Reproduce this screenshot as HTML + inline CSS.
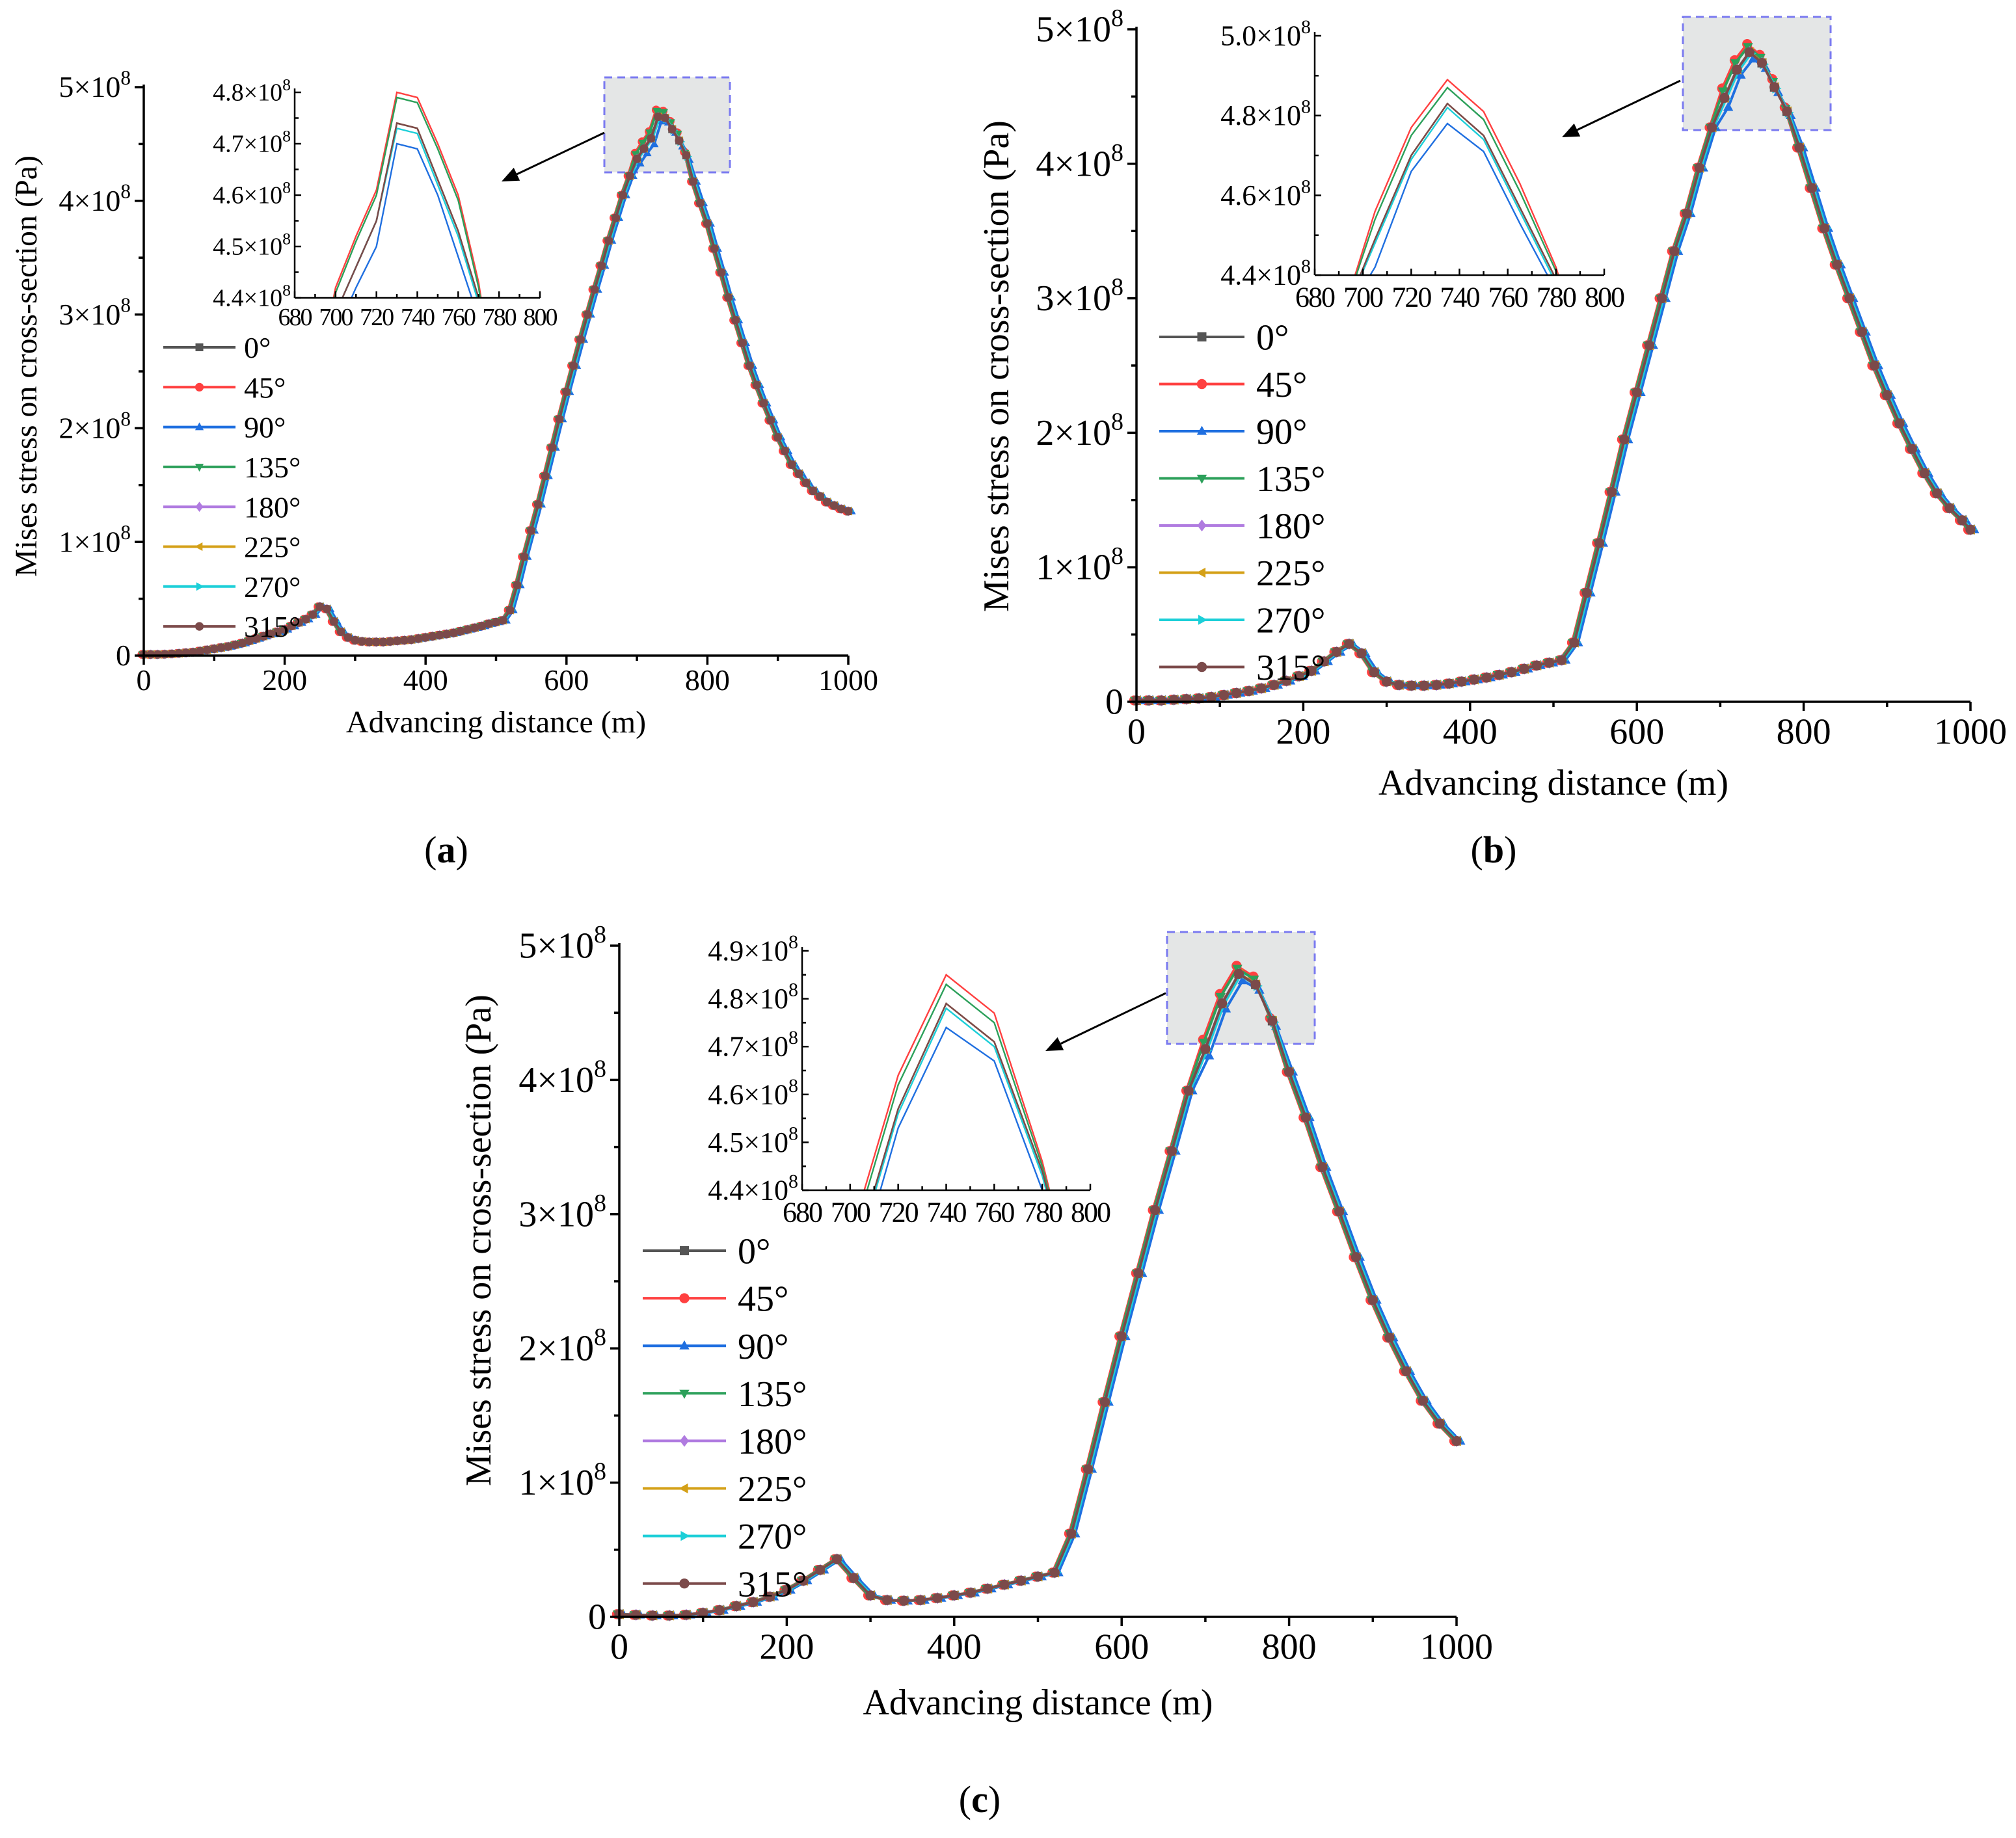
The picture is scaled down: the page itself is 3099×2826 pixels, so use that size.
<!DOCTYPE html>
<html><head><meta charset="utf-8">
<style>
html,body{margin:0;padding:0;background:#fff;overflow:hidden;width:3099px;height:2826px;}
svg{display:block;font-family:"Liberation Serif",serif;}
</style></head>
<body>
<svg id="fig" width="3099" height="2826" viewBox="0 0 3099 2826" xmlns="http://www.w3.org/2000/svg"></svg>
<script>
// ---------- DATA (values in units of 1e8 Pa) ----------
const seriesNames = ["0°","45°","90°","135°","180°","225°","270°","315°"];
const seriesColors = ["#555555","#ff4040","#1f6fe0","#2ca05a","#b07be0","#d4a017","#1ccfd8","#7b4a4a"];
const markerShapes = ["square","circle","tri-up","tri-down","diamond","tri-left","tri-right","circle"];

// Panel (a)
const aX = [0,10,20,30,40,50,60,70,80,90,100,110,120,130,140,150,160,170,180,190,200,210,220,230,240,250,260,270,280,290,300,310,320,330,340,350,360,370,380,390,400,410,420,430,440,450,460,470,480,490,500,510,520,530,540,550,560,570,580,590,600,610,620,630,640,650,660,670,680,690,700,710,720,730,740,750,760,770,780,790,800,810,820,830,840,850,860,870,880,890,900,910,920,930,940,950,960,970,980,990,1000];
const aBase = [0.01,0.01,0.01,0.012,0.015,0.02,0.025,0.03,0.04,0.05,0.06,0.07,0.08,0.095,0.11,0.13,0.15,0.17,0.19,0.21,0.23,0.26,0.29,0.32,0.36,0.43,0.41,0.30,0.21,0.16,0.135,0.125,0.12,0.12,0.12,0.125,0.13,0.135,0.14,0.15,0.16,0.17,0.18,0.19,0.20,0.215,0.23,0.245,0.26,0.28,0.295,0.31,0.40,0.62,0.87,1.10,1.33,1.58,1.83,2.08,2.32,2.55,2.78,3.00,3.22,3.43,3.65,3.85,4.05,4.22,4.37,4.46,4.55,4.74,4.73,4.63,4.53,4.40,4.17,3.98,3.80,3.58,3.37,3.15,2.95,2.75,2.55,2.38,2.22,2.07,1.92,1.80,1.68,1.60,1.52,1.45,1.40,1.35,1.32,1.29,1.27];
const aPeakX = [700,710,720,730,740,750,760,770];
const aRed   = [4.42,4.52,4.61,4.80,4.79,4.70,4.60,4.43];
const aGreen = [4.41,4.51,4.60,4.79,4.78,4.69,4.59,4.42];
const aMid   = [4.37,4.46,4.55,4.74,4.73,4.63,4.53,4.40];
const aCyan  = [4.37,4.46,4.55,4.73,4.72,4.62,4.52,4.39];
const aBlue  = [4.33,4.42,4.50,4.70,4.69,4.60,4.48,4.36];

// Panel (b)
const bX = [0,15,30,45,60,75,90,105,120,135,150,165,180,195,210,225,240,255,270,285,300,315,330,345,360,375,390,405,420,435,450,465,480,495,510,525,540,555,570,585,600,615,630,645,660,675,690,705,720,735,750,765,780,795,810,825,840,855,870,885,900,915,930,945,960,975,990,1000];
const bBase = [0.01,0.01,0.01,0.015,0.02,0.025,0.035,0.05,0.065,0.08,0.10,0.125,0.155,0.19,0.23,0.30,0.37,0.43,0.36,0.22,0.15,0.125,0.12,0.12,0.125,0.135,0.15,0.165,0.18,0.20,0.22,0.245,0.27,0.29,0.31,0.44,0.81,1.18,1.56,1.95,2.30,2.65,3.00,3.35,3.63,3.97,4.27,4.49,4.70,4.83,4.75,4.57,4.39,4.12,3.82,3.52,3.25,3.00,2.75,2.50,2.28,2.07,1.88,1.70,1.55,1.44,1.35,1.28];
const bPeakX = [705,720,735,750,765,780];
const bRed   = [4.56,4.77,4.89,4.81,4.63,4.42];
const bGreen = [4.54,4.75,4.87,4.79,4.61,4.41];
const bMid   = [4.49,4.70,4.83,4.75,4.57,4.39];
const bCyan  = [4.48,4.69,4.82,4.74,4.56,4.38];
const bBlue  = [4.42,4.66,4.78,4.71,4.53,4.36];

// Panel (c)
const cX = [0,20,40,60,80,100,120,140,160,180,200,220,240,260,280,300,320,340,360,380,400,420,440,460,480,500,520,540,560,580,600,620,640,660,680,700,720,740,760,780,800,820,840,860,880,900,920,940,960,980,1000];
const cBase = [0.02,0.015,0.01,0.01,0.015,0.03,0.05,0.08,0.11,0.15,0.20,0.27,0.35,0.43,0.29,0.16,0.125,0.12,0.125,0.14,0.16,0.18,0.21,0.24,0.27,0.30,0.33,0.62,1.10,1.60,2.09,2.56,3.03,3.47,3.92,4.23,4.57,4.79,4.71,4.44,4.06,3.72,3.35,3.02,2.68,2.36,2.08,1.83,1.61,1.44,1.31];
const cPeakX = [700,720,740,760,780];
const cRed   = [4.30,4.64,4.85,4.77,4.46];
const cGreen = [4.28,4.62,4.83,4.75,4.45];
const cMid   = [4.23,4.57,4.79,4.71,4.44];
const cCyan  = [4.22,4.56,4.78,4.70,4.43];
const cBlue  = [4.18,4.53,4.74,4.67,4.40];

const mainYTicks = [0,1,2,3,4,5];
const mainXTicks = [0,200,400,600,800,1000];
const insetXTicks = [680,700,720,740,760,780,800];
const aInsetYTicks = ["4.4","4.5","4.6","4.7","4.8"];
const bInsetYTicks = ["4.4","4.6","4.8","5.0"];
const cInsetYTicks = ["4.4","4.5","4.6","4.7","4.8","4.9"];

// ---------- DRAWING ----------
const NS = "http://www.w3.org/2000/svg";
const svg = document.getElementById("fig");
function mk(tag, attrs, parent){
  const e = document.createElementNS(NS, tag);
  for (const k in attrs) e.setAttribute(k, attrs[k]);
  (parent||svg).appendChild(e);
  return e;
}
function sciText(parent, x, y, mant, fs, anchor){
  const t = mk("text", {x:x, y:y, "font-size":fs, "text-anchor":anchor, fill:"#000"}, parent);
  if (mant === "0") { t.textContent = "0"; return t; }
  t.appendChild(document.createTextNode(mant + "×10"));
  const s = document.createElementNS(NS, "tspan");
  s.setAttribute("dy", -fs*0.42);
  s.setAttribute("font-size", fs*0.68);
  s.textContent = "8";
  t.appendChild(s);
  return t;
}
function marker(g, shape, x, y, r, color){
  let e;
  if (shape==="square") e = mk("rect",{x:x-r,y:y-r,width:2*r,height:2*r,fill:color},g);
  else if (shape==="circle") e = mk("circle",{cx:x,cy:y,r:r*1.1,fill:color},g);
  else {
    let pts;
    if (shape==="tri-up") pts=[[x,y-r*1.2],[x-r*1.1,y+r*0.8],[x+r*1.1,y+r*0.8]];
    else if (shape==="tri-down") pts=[[x,y+r*1.2],[x-r*1.1,y-r*0.8],[x+r*1.1,y-r*0.8]];
    else if (shape==="tri-left") pts=[[x-r*1.2,y],[x+r*0.8,y-r*1.1],[x+r*0.8,y+r*1.1]];
    else if (shape==="tri-right") pts=[[x+r*1.2,y],[x-r*0.8,y-r*1.1],[x-r*0.8,y+r*1.1]];
    else pts=[[x,y-r*1.3],[x+r,y],[x,y+r*1.3],[x-r,y]];
    e = mk("polygon",{points:pts.map(p=>p.join(",")).join(" "),fill:color},g);
  }
  return e;
}
function seriesValues(xs, base, peakX, peakArr){
  return xs.map((x,i)=>{ const j = peakX.indexOf(x); return j>=0 ? peakArr[j] : base[i]; });
}

function drawPanel(P){
  const g = mk("g", {});
  
  
  const sx = v => P.ox + v/1000*P.xw;
  const sy = v => P.oy - v/5*P.yh;
  const perSeries = [P.mid,P.red,P.blue,P.green,P.mid,P.mid,P.cyan,P.mid];
  const xShift = [0,-1.5,2.5,-1,0,0.5,1,0];

  const box = mk("rect",{x:P.box[0],y:P.box[1],width:P.box[2]-P.box[0],height:P.box[3]-P.box[1],fill:"#e4e6e6",stroke:"#7a7af0","stroke-width":3,"stroke-dasharray":"12,8"},g);
  
  

  for (let s=0;s<8;s++){
    const vals = seriesValues(P.xs, P.base, P.peakX, perSeries[s]);
    const sg = mk("g",{},g);
    
    
    const pl = mk("polyline",{points:P.xs.map((x,i)=>(sx(x)+xShift[s]*P.mr/3)+","+sy(vals[i])).join(" "),fill:"none",stroke:seriesColors[s],"stroke-width":4,"stroke-linejoin":"round"},sg);
    
    
    P.xs.forEach((x,i)=>{
      const m = marker(sg, markerShapes[s], sx(x)+xShift[s]*P.mr/3, sy(vals[i]), P.mr, seriesColors[s]);
      
      
    });
  }

  const ax = mk("g",{stroke:"#000","stroke-width":3.5},g);
  
  
  mk("line",{x1:P.ox,y1:P.oy,x2:P.ox+P.xw,y2:P.oy},ax);
  mk("line",{x1:P.ox,y1:P.oy,x2:P.ox,y2:P.oy-P.yh-4},ax);
  for (let v=0; v<=1000; v+=100){
    const major = v%200===0;
    mk("line",{x1:sx(v),y1:P.oy,x2:sx(v),y2:P.oy+(major?14:8)},ax);
  }
  for (let v=0; v<=5; v+=0.5){
    const major = Math.abs(v-Math.round(v))<1e-6;
    mk("line",{x1:P.ox,y1:sy(v),x2:P.ox-(major?14:8),y2:sy(v)},ax);
  }
  mainXTicks.forEach(v=>{
    const t = mk("text",{x:sx(v),y:P.oy+P.tickFs*1.15,"font-size":P.tickFs,"text-anchor":"middle",fill:"#000"},g);
    t.textContent = String(v);
    
    
  });
  mainYTicks.forEach(v=>{
    const t = sciText(g, P.ox-20, sy(v)+P.tickFs*0.33, v===0?"0":String(v), P.tickFs, "end");
    
    
  });
  const xt = mk("text",{x:P.ox+P.xw/2,y:P.xTitleY,"font-size":P.titleFs,"text-anchor":"middle",fill:"#000"},g);
  xt.textContent = "Advancing distance (m)";
  
  
  const yt = mk("text",{x:0,y:0,"font-size":P.titleFs,"text-anchor":"middle",fill:"#000",transform:`translate(${P.yTitleX},${P.yTitleCY}) rotate(-90)`},g);
  yt.textContent = "Mises stress on cross-section  (Pa)";
  
  

  const lg = mk("g",{},g);
  
  
  for (let s=0;s<8;s++){
    const y = P.leg.y0 + s*P.leg.dy;
    const le = mk("g",{},lg);
    
    
    mk("line",{x1:P.leg.x1,y1:y,x2:P.leg.x2,y2:y,stroke:seriesColors[s],"stroke-width":4},le);
    marker(le, markerShapes[s], (P.leg.x1+P.leg.x2)/2, y, P.mr, seriesColors[s]);
    const t = mk("text",{x:P.leg.tx,y:y+P.leg.fs*0.35,"font-size":P.leg.fs,fill:"#000"},le);
    t.textContent = seriesNames[s];
  }

  const a = P.arrow;
  const arr = mk("g",{},g);
  
  
  const dx=a[2]-a[0], dy=a[3]-a[1], L=Math.hypot(dx,dy), ux=dx/L, uy=dy/L;
  const hx=a[2]-ux*26, hy=a[3]-uy*26;
  mk("line",{x1:a[0],y1:a[1],x2:hx,y2:hy,stroke:"#000","stroke-width":3},arr);
  mk("polygon",{points:`${a[2]},${a[3]} ${hx-uy*11},${hy+ux*11} ${hx+uy*11},${hy-ux*11}`,fill:"#000"},arr);

  const I = P.inset;
  const ig = mk("g",{},g);
  
  
  const isx = v => I.x0 + (v-680)/120*(I.x1-I.x0);
  const isy = v => I.y0 - (v-I.ymin)/(I.ymax-I.ymin)*(I.y0-I.y1);
  const cid = "clip"+P.name;
  const cp = mk("clipPath",{id:cid},ig);
  mk("rect",{x:I.x0,y:I.y1-20,width:I.x1-I.x0,height:I.y0-I.y1+20},cp);
  const il = mk("g",{"clip-path":`url(#${cid})`},ig);
  for (let s=0;s<8;s++){
    const vals = seriesValues(P.xs, P.base, P.peakX, perSeries[s]);
    const pl = mk("polyline",{points:P.xs.map((x,i)=>isx(x)+","+isy(vals[i])).join(" "),fill:"none",stroke:seriesColors[s],"stroke-width":2.4},il);
    
    
  }
  const iax = mk("g",{stroke:"#000","stroke-width":2.5},ig);
  mk("line",{x1:I.x0,y1:I.y0,x2:I.x1,y2:I.y0},iax);
  mk("line",{x1:I.x0,y1:I.y0,x2:I.x0,y2:I.y1-6},iax);
  for (let v=680; v<=800; v+=10) mk("line",{x1:isx(v),y1:I.y0,x2:isx(v),y2:I.y0-(v%20===0?10:6)},iax);
  const n = I.ticks.length;
  const step = (I.ymax-I.ymin)/(n-1);
  for (let k=0;k<2*n-1;k++){
    const v = I.ymin + k*step/2;
    mk("line",{x1:I.x0,y1:isy(v),x2:I.x0+(k%2===0?10:6),y2:isy(v)},iax);
  }
  insetXTicks.forEach(v=>{
    const t = mk("text",{x:isx(v),y:I.y0+I.fs*1.1,"font-size":I.fs,"text-anchor":"middle",fill:"#000","letter-spacing":"-2"},ig);
    t.textContent = String(v);
    
    
  });
  I.ticks.forEach((lab,k)=>{
    const t = sciText(ig, I.x0-6, isy(I.ymin+k*step)+I.fs*0.33, lab, I.fs, "end");
    
    
  });

  const cap = mk("text",{x:P.cap[0],y:P.cap[1],"font-size":58,"text-anchor":"middle",fill:"#000"},g);
  cap.appendChild(document.createTextNode("("));
  const bt = document.createElementNS(NS,"tspan");
  bt.setAttribute("font-weight","bold");
  bt.textContent = P.capLetter;
  cap.appendChild(bt);
  cap.appendChild(document.createTextNode(")"));
  
  
}

drawPanel({name:"panel-a", ox:221, oy:1008, xw:1083, yh:874, xs:aX, base:aBase, peakX:aPeakX,
  red:aRed, green:aGreen, mid:aMid, cyan:aCyan, blue:aBlue, mr:6,
  tickFs:46, titleFs:48, xTitleY:1126, yTitleX:56, yTitleCY:563,
  leg:{x1:251,x2:362,tx:375,y0:534,dy:61.3,fs:46},
  box:[929,119,1122,265], arrow:[929,204,771,279],
  inset:{x0:453,x1:830,y0:458,y1:142,ymin:4.4,ymax:4.8,ticks:aInsetYTicks,fs:38},
  cap:[686,1326], capLetter:"a"});

drawPanel({name:"panel-b", ox:1747, oy:1079, xw:1282, yh:1034, xs:bX, base:bBase, peakX:bPeakX,
  red:bRed, green:bGreen, mid:bMid, cyan:bCyan, blue:bBlue, mr:7,
  tickFs:56, titleFs:56, xTitleY:1222, yTitleX:1550, yTitleCY:563,
  leg:{x1:1782,x2:1913,tx:1931,y0:518,dy:72.5,fs:56},
  box:[2587,26,2814,200], arrow:[2583,124,2401,211],
  inset:{x0:2021,x1:2466,y0:423,y1:55,ymin:4.4,ymax:5.0,ticks:bInsetYTicks,fs:44},
  cap:[2296,1326], capLetter:"b"});

drawPanel({name:"panel-c", ox:952, oy:2486, xw:1287, yh:1032, xs:cX, base:cBase, peakX:cPeakX,
  red:cRed, green:cGreen, mid:cMid, cyan:cCyan, blue:cBlue, mr:7,
  tickFs:56, titleFs:56, xTitleY:2636, yTitleX:754, yTitleCY:1907,
  leg:{x1:988,x2:1116,tx:1134,y0:1923,dy:73.1,fs:56},
  box:[1794,1433,2021,1605], arrow:[1792,1527,1607,1616],
  inset:{x0:1233,x1:1676,y0:1830,y1:1462,ymin:4.4,ymax:4.9,ticks:cInsetYTicks,fs:44},
  cap:[1506,2786], capLetter:"c"});
</script>
</body></html>
